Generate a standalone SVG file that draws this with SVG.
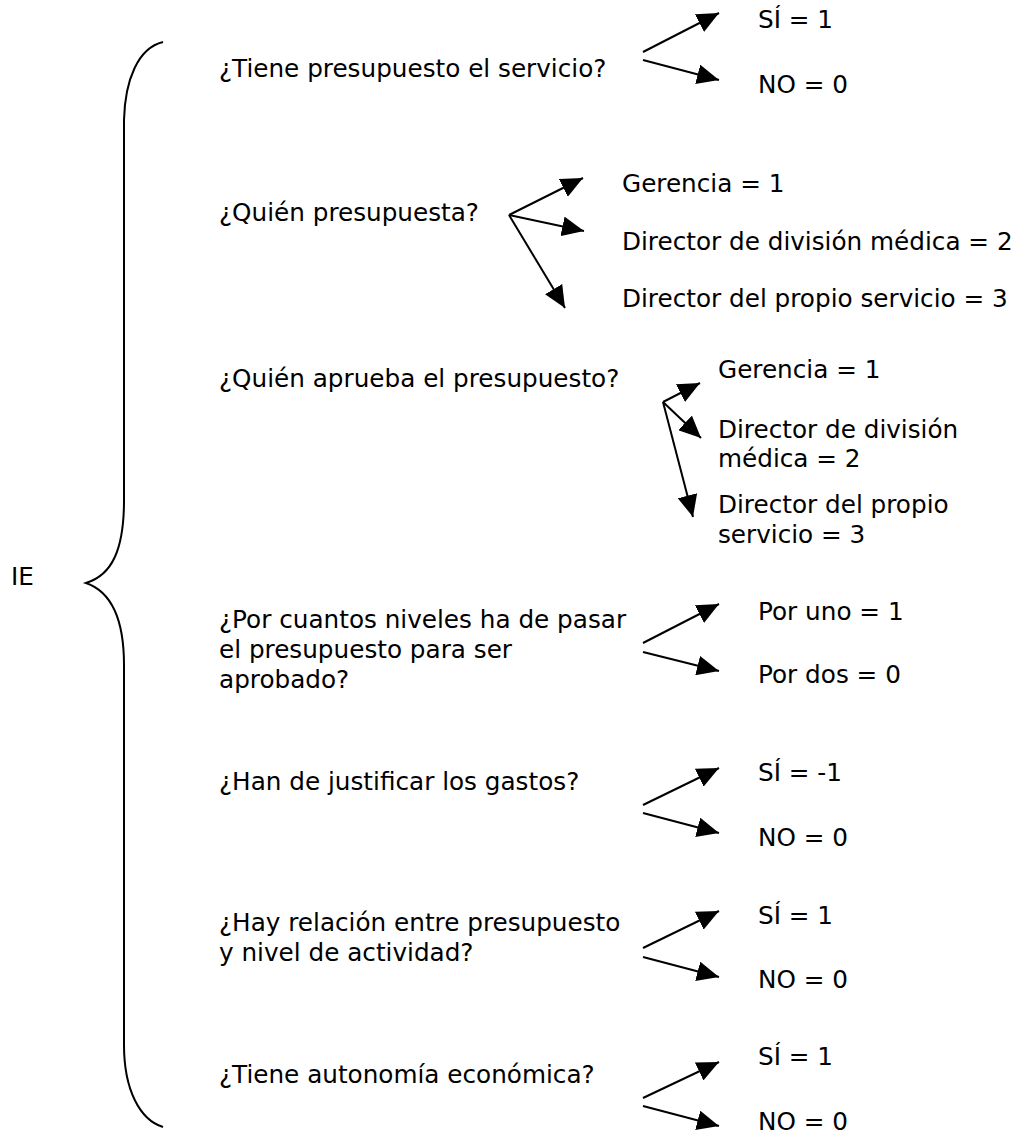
<svg xmlns="http://www.w3.org/2000/svg" width="1025" height="1135" viewBox="0 0 1025 1135">
<style>
text{font-family:"DejaVu Sans","Liberation Sans",sans-serif;font-size:24.7px;fill:#000}
.c{stroke:#000;stroke-width:2;fill:none}
</style>
<defs>
<marker id="ah" markerUnits="userSpaceOnUse" markerWidth="24" markerHeight="20" refX="22" refY="10" orient="auto">
<path d="M0,0 L22,10 L0,20 z" fill="#000"/>
</marker>
</defs>
<rect width="1025" height="1135" fill="#fff"/>
<g id="brace">
<path class="c" d="M163,42 C138,48 125,80 124,120 L124,500 C124,550 112,575 86,583 C112,592 124,620 124,665 L124,1045 C124,1090 140,1120 163,1127"/>
</g>
<g id="ie"><text x="11" y="585">IE</text></g>
<g id="q1"><text x="219" y="77">¿Tiene presupuesto el servicio?</text></g>
<g id="q1a"><text x="758" y="28">SÍ = 1</text></g>
<g id="q1b"><text x="758" y="93">NO = 0</text></g>
<g id="q2"><text x="219" y="221">¿Quién presupuesta?</text></g>
<g id="q2a"><text x="622" y="192">Gerencia = 1</text></g>
<g id="q2b"><text x="622" y="250">Director de división médica = 2</text></g>
<g id="q2c"><text x="622" y="307">Director del propio servicio = 3</text></g>
<g id="q3"><text x="219" y="387">¿Quién aprueba el presupuesto?</text></g>
<g id="q3a"><text x="718" y="378">Gerencia = 1</text></g>
<g id="q3b"><text x="718" y="438">Director de división</text><text x="718" y="467">médica = 2</text></g>
<g id="q3c"><text x="718" y="513">Director del propio</text><text x="718" y="543">servicio = 3</text></g>
<g id="q4"><text x="219" y="628">¿Por cuantos niveles ha de pasar</text><text x="219" y="658">el presupuesto para ser</text><text x="219" y="688">aprobado?</text></g>
<g id="q4a"><text x="758" y="620">Por uno = 1</text></g>
<g id="q4b"><text x="758" y="683">Por dos = 0</text></g>
<g id="q5"><text x="219" y="790">¿Han de justificar los gastos?</text></g>
<g id="q5a"><text x="758" y="781">SÍ = -1</text></g>
<g id="q5b"><text x="758" y="846">NO = 0</text></g>
<g id="q6"><text x="219" y="931">¿Hay relación entre presupuesto</text><text x="219" y="961">y nivel de actividad?</text></g>
<g id="q6a"><text x="758" y="924">SÍ = 1</text></g>
<g id="q6b"><text x="758" y="988">NO = 0</text></g>
<g id="q7"><text x="219" y="1083">¿Tiene autonomía económica?</text></g>
<g id="q7a"><text x="758" y="1065">SÍ = 1</text></g>
<g id="q7b"><text x="758" y="1130">NO = 0</text></g>
<g id="connectors" class="c" marker-end="url(#ah)">
<line x1="643" y1="52" x2="719" y2="13"/>
<line x1="643" y1="60" x2="719" y2="80"/>
<line x1="509" y1="215" x2="583" y2="178"/>
<line x1="509" y1="215" x2="584" y2="231"/>
<line x1="509" y1="215" x2="565" y2="308"/>
<line x1="663" y1="402" x2="700" y2="383"/>
<line x1="663" y1="402" x2="701" y2="438"/>
<line x1="663" y1="402" x2="693" y2="517"/>
<line x1="643" y1="643" x2="719" y2="604"/>
<line x1="643" y1="652" x2="719" y2="671"/>
<line x1="643" y1="805" x2="719" y2="768"/>
<line x1="643" y1="813" x2="719" y2="833"/>
<line x1="643" y1="948" x2="719" y2="911"/>
<line x1="643" y1="957" x2="719" y2="977"/>
<line x1="643" y1="1098" x2="719" y2="1062"/>
<line x1="643" y1="1106" x2="719" y2="1126"/>
</g>
</svg>
